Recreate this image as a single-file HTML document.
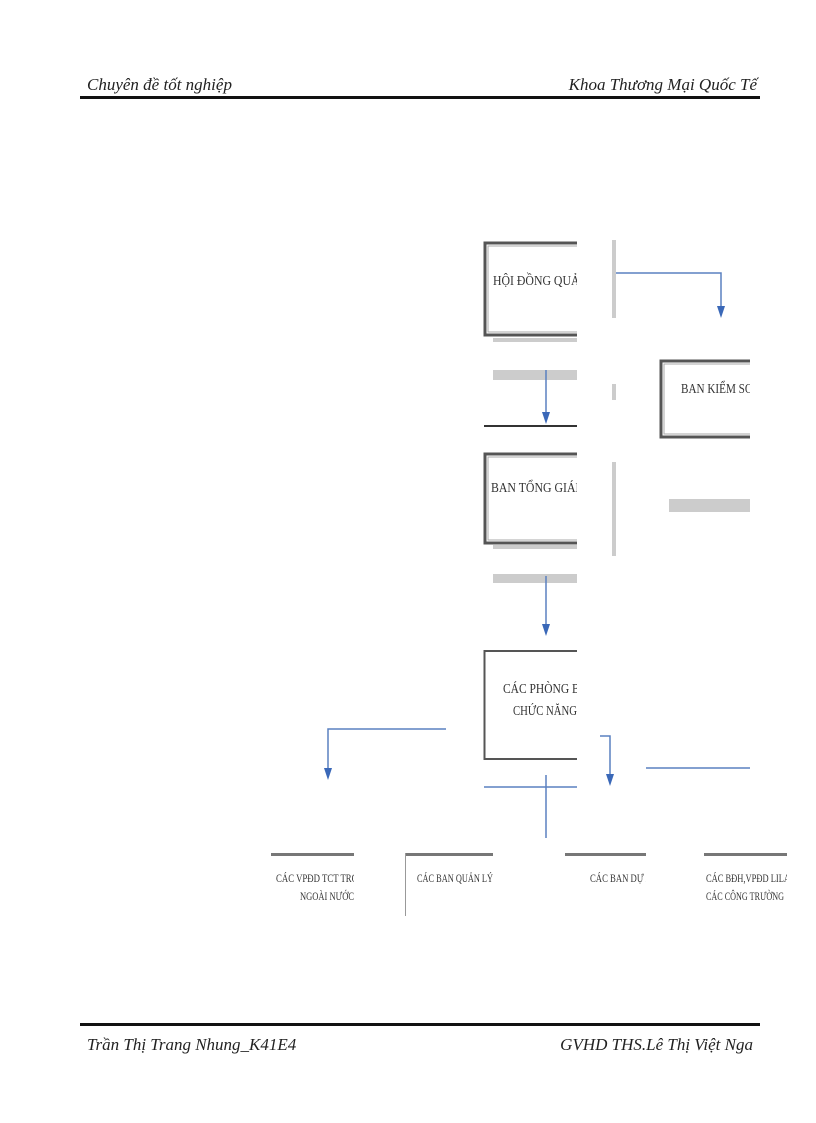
<!DOCTYPE html>
<html><head><meta charset="utf-8"><style>
body{margin:0;background:#fff;}
svg{display:block}
text{font-family:"Liberation Serif",serif;}
.h{font-style:italic;font-size:17px;fill:#222;}
.b{font-size:14px;fill:#333;}
.s{font-size:12px;fill:#333;}
</style></head><body>
<svg width="816" height="1123" viewBox="0 0 816 1123" xmlns="http://www.w3.org/2000/svg">
<defs>
<clipPath id="c1"><rect x="480" y="230" width="97" height="560"/></clipPath>
<clipPath id="c2"><rect x="655" y="350" width="95" height="100"/></clipPath>
<clipPath id="c3"><rect x="268" y="860" width="86" height="60"/></clipPath>
<clipPath id="c4"><rect x="405" y="860" width="88" height="60"/></clipPath>
<clipPath id="c5"><rect x="565" y="860" width="81" height="60"/></clipPath>
<clipPath id="c6"><rect x="700" y="860" width="87" height="60"/></clipPath>
</defs>
<text class="h" x="87" y="90">Chuyên đề tốt nghiệp</text>
<text class="h" x="757" y="90" text-anchor="end">Khoa Thương Mại Quốc Tế</text>
<rect x="80" y="96" width="680" height="3" fill="#111"/>
<rect x="80" y="1023" width="680" height="3" fill="#111"/>
<text class="h" x="87" y="1050">Trần Thị Trang Nhung_K41E4</text>
<text class="h" x="753" y="1050" text-anchor="end">GVHD THS.Lê Thị Việt Nga</text>

<g fill="none" stroke="#555" stroke-width="3">
<path d="M577,243 H485 V335 H577"/>
<path d="M577,454 H485 V543 H577"/>
<path d="M750,361 H661 V437 H750"/>
</g>
<g fill="none" stroke="#aaa" stroke-width="1">
<path d="M577,246 H488 V332 H577"/>
<path d="M577,457 H488 V540 H577"/>
<path d="M750,364 H664 V434 H750"/>
</g>
<path d="M577,651 H484.5 V759 H577" fill="none" stroke="#555" stroke-width="2"/>
<rect x="493" y="338" width="84" height="4" fill="#ccc"/>
<rect x="493" y="545" width="84" height="4" fill="#ccc"/>
<g clip-path="url(#c1)">
<text class="b" x="493" y="285" textLength="95" lengthAdjust="spacingAndGlyphs">HỘI ĐỒNG QUẢN</text>
<text class="b" x="491" y="492" textLength="95" lengthAdjust="spacingAndGlyphs">BAN TỔNG GIÁM</text>
<text class="b" x="503" y="693" textLength="85" lengthAdjust="spacingAndGlyphs">CÁC PHÒNG BA</text>
<text class="b" x="513" y="715" textLength="64" lengthAdjust="spacingAndGlyphs">CHỨC NĂNG</text>
</g>
<g clip-path="url(#c2)">
<text class="b" x="681" y="393" textLength="80" lengthAdjust="spacingAndGlyphs">BAN KIỂM SOÁ</text>
</g>

<rect x="493" y="370" width="84" height="10" fill="#ccc"/>
<rect x="493" y="574" width="84" height="9" fill="#ccc"/>
<rect x="669" y="499" width="81" height="13" fill="#ccc"/>
<rect x="612" y="240" width="4" height="78" fill="#ccc"/>
<rect x="612" y="384" width="4" height="16" fill="#ccc"/>
<rect x="612" y="462" width="4" height="94" fill="#ccc"/>
<rect x="484" y="425" width="93" height="2" fill="#333"/>

<g stroke="#5a80c0" stroke-width="1.5" fill="none">
<path d="M546,370 V414"/>
<path d="M546,576 V626"/>
<path d="M616,273 H721 V308"/>
<path d="M446,729 H328 V770"/>
<path d="M600,736 H610 V776"/>
<path d="M484,787 H577"/>
<path d="M546,775 V838"/>
<path d="M646,768 H750"/>
</g>
<g fill="#3a68b8">
<path d="M542,412 L550,412 L546,424 Z"/>
<path d="M542,624 L550,624 L546,636 Z"/>
<path d="M717,306 L725,306 L721,318 Z"/>
<path d="M324,768 L332,768 L328,780 Z"/>
<path d="M606,774 L614,774 L610,786 Z"/>
</g>

<g fill="#777">
<rect x="271" y="853" width="83" height="3"/>
<rect x="405" y="853" width="88" height="3"/>
<rect x="565" y="853" width="81" height="3"/>
<rect x="704" y="853" width="83" height="3"/>
</g>
<rect x="405" y="853" width="1" height="63" fill="#999"/>
<g clip-path="url(#c3)">
<text class="s" x="276" y="882" textLength="82" lengthAdjust="spacingAndGlyphs">CÁC VPĐD TCT TRO</text>
<text class="s" x="354" y="900" text-anchor="end" textLength="54" lengthAdjust="spacingAndGlyphs">NGOÀI NƯỚC</text>
</g>
<g clip-path="url(#c4)">
<text class="s" x="417" y="882" textLength="76" lengthAdjust="spacingAndGlyphs">CÁC BAN QUẢN LÝ</text>
</g>
<g clip-path="url(#c5)">
<text class="s" x="590" y="882" textLength="62" lengthAdjust="spacingAndGlyphs">CÁC BAN DỰ Á</text>
</g>
<g clip-path="url(#c6)">
<text class="s" x="706" y="882" textLength="84" lengthAdjust="spacingAndGlyphs">CÁC BĐH,VPĐD LILA</text>
<text class="s" x="706" y="900" textLength="78" lengthAdjust="spacingAndGlyphs">CÁC CÔNG TRƯỜNG</text>
</g>
</svg>
</body></html>
